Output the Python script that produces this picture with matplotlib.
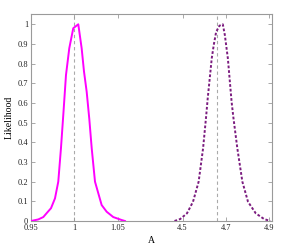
import numpy as np
import matplotlib.pyplot as plt

# left peak (around A = 1)
a_left = [0.95, 0.9584, 0.9642, 0.9681, 0.9731, 0.9777, 0.9815, 0.9846, 0.9873,
          0.9904, 0.9942, 0.9988, 1.0046, 1.0085, 1.0112, 1.0143, 1.0173, 1.0201,
          1.0239, 1.0316, 1.0374, 1.045, 1.0547, 1.0585]
lik_left = [0.0, 0.008, 0.02, 0.04, 0.065, 0.115, 0.2, 0.37, 0.54,
            0.742, 0.878, 0.98, 1.0, 0.878, 0.76, 0.657, 0.52, 0.37,
            0.2, 0.081, 0.047, 0.02, 0.005, 0.0]

# right peak (around A = 4.67)
a_right = [4.4628, 4.4893, 4.5205, 4.5484, 4.5744, 4.5949, 4.6088, 4.6163, 4.6256,
           4.6349, 4.6442, 4.6553, 4.6707, 4.6860, 4.6953, 4.7093, 4.7186, 4.7265,
           4.7344, 4.7530, 4.7763, 4.8023, 4.8381, 4.8767, 4.9047]
lik_right = [0.0, 0.01, 0.039, 0.098, 0.2, 0.37, 0.53, 0.624, 0.725,
             0.827, 0.895, 0.962, 0.993, 1.0, 0.946, 0.827, 0.708, 0.607,
             0.53, 0.37, 0.2, 0.098, 0.039, 0.01, 0.0]

true_left = 1.0
true_right = 4.66

xtick_vals = [0.95, 1.0, 1.05, 4.5, 4.7, 4.9]
xtick_labels = ['0.95', '1', '1.05', '4.5', '4.7', '4.9']


def pos(a):
    # compressed x axis: two segments with different scales
    a = np.asarray(a, dtype=float)
    return np.where(a < 3, (a - 0.95) / 0.05, 3.5 + (a - 4.5) / 0.2)


plt.rcParams['font.family'] = ['Liberation Serif', 'DejaVu Serif']

fig = plt.figure(figsize=(2.93, 2.44), dpi=100)
ax = fig.add_axes([31 / 293, 23 / 244, (272.3 - 31) / 293, (221 - 14.3) / 244])

ax.axvline(pos(true_left), color='#aaaaaa', lw=0.8, ls=(0, (3, 2.5)), zorder=1)
ax.axvline(pos(true_right), color='#aaaaaa', lw=0.8, ls=(0, (3, 2.5)), zorder=1)

ax.plot(pos(a_left), lik_left, color='#ff00ff', lw=1.4, zorder=3)
ax.plot(pos(a_right), lik_right, color='#7b1c7f', lw=1.4, ls=(0, (1.4, 1.0)), zorder=3)

ax.set_xlim(0, 5.573)
ax.set_ylim(0, 1.0508)
ax.set_xticks(pos(xtick_vals))
ax.set_xticklabels(xtick_labels)
ax.set_yticks(np.arange(0, 1.01, 0.1))
ax.set_yticklabels(['0', '0.1', '0.2', '0.3', '0.4', '0.5', '0.6', '0.7', '0.8', '0.9', '1'])

for s in ax.spines.values():
    s.set_color('#9a9a9a')
    s.set_linewidth(0.8)
ax.tick_params(direction='in', length=3, width=0.6, color='#9a9a9a',
               top=True, right=True, labelsize=6, labelcolor='#222222', pad=2)

ax.set_xlabel('A', fontsize=7, labelpad=3)
ax.set_ylabel('Likelihood', fontsize=7, labelpad=3)

fig.savefig('out.png', dpi=100)
